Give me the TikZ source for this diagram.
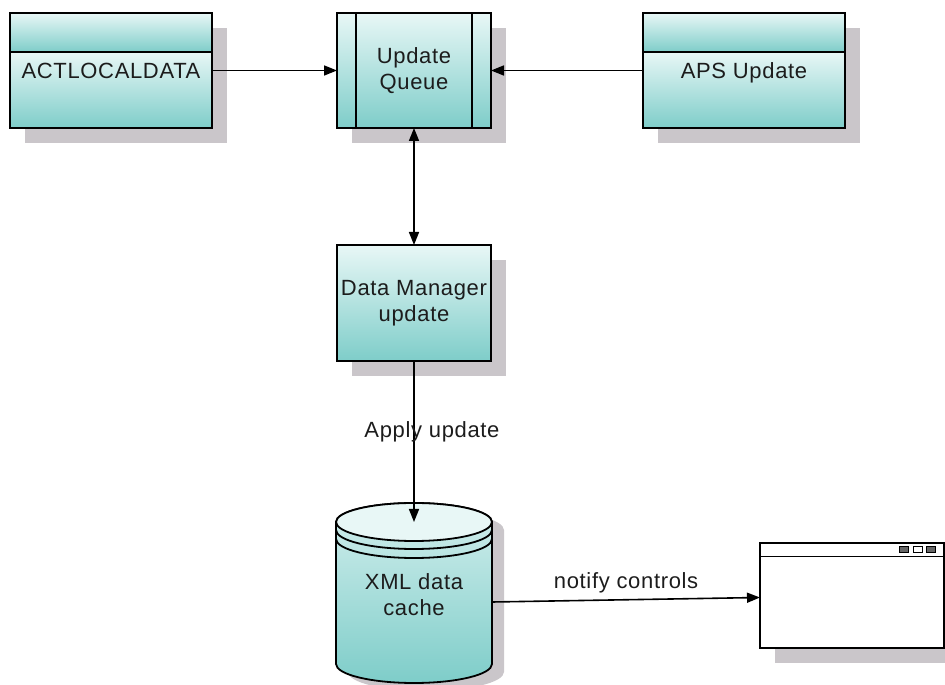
\documentclass[tikz,border=0pt]{standalone}
\usepackage{fontspec}
\setmainfont{Liberation Sans}[LetterSpace=3]
\usetikzlibrary{positioning,shadows,arrows.meta}
\definecolor{tealtop}{RGB}{232,247,246}
\definecolor{tealbot}{RGB}{126,205,201}
\definecolor{shadowgray}{RGB}{202,198,202}
\definecolor{ink}{RGB}{28,28,28}

\begin{document}
\begin{tikzpicture}[
x=1pt, y=1pt,
node distance=0pt,
font=\fontsize{22}{26}\selectfont, text=ink,
    S/.style = {drop shadow={shadow xshift=15pt, shadow yshift=-15pt,
                fill=shadowgray, opacity=1}},% flat grey shadow
    E/.style = {rectangle, draw, line width=2.6pt, outer sep=0pt,% data stores
                minimum width=202pt, top color=tealtop, bottom color=tealbot, S},
    P/.style = {rectangle, draw, line width=1.8pt, outer sep=0pt,% processes
                minimum width=154pt, minimum height=115pt, align=center,
                top color=tealtop, bottom color=tealbot, S},
    A/.style = {line width=1.6pt, -{Triangle[length=13pt,width=10pt]}},
   AA/.style = {line width=1.6pt, {Triangle[length=13pt,width=10pt]}-{Triangle[length=13pt,width=10pt]}},
                        ]
\useasboundingbox (0,0) rectangle (945,685);

% data stores with header
\node[E, minimum height=39pt] (actlhead) at (111,652.5) {};
\node[E, minimum height=76pt, inner ysep=3pt, text height=24pt, text depth=46pt,
      below=of actlhead] (actl) {ACTLOCALDATA};
\node[E, minimum height=39pt] (apshead) at (744,652.5) {};
\node[E, minimum height=76pt, inner ysep=3pt, text height=24pt, text depth=46pt,
      below=of apshead] (aps) {APS Update};

% queue and manager
\node[P] (queue) at (414,614.5) {Update\\Queue};
\draw[line width=1.8pt] ([xshift=19pt]queue.north west) -- ([xshift=19pt]queue.south west)
                        ([xshift=-19pt]queue.north east) -- ([xshift=-19pt]queue.south east);
\node[P, minimum height=116pt] (dm) at (414,382) {Data Manager\\update};

% cylinder
\fill[shadowgray] (348,155) -- (348,13) arc[start angle=180, end angle=360, x radius=78, y radius=19]
      -- (504,155) arc[start angle=0, end angle=180, x radius=78, y radius=19] -- cycle;
\shadedraw[line width=1.8pt, top color=tealtop!80!tealbot, bottom color=tealbot]
      (336,163) -- (336,21) arc[start angle=180, end angle=360, x radius=78, y radius=19]
      -- (492,163) arc[start angle=0, end angle=180, x radius=78, y radius=19] -- cycle;
\draw[line width=1.8pt, fill=tealtop] (414,163) ellipse[x radius=78, y radius=19];
\foreach \h in {155,146}
    \draw[line width=1.8pt] (336,\h) arc[start angle=180, end angle=360, x radius=78, y radius=19];
\node[align=center, inner sep=0pt, minimum width=156pt] (xml) at (414,90) {XML data\\cache};
\coordinate (xmltop) at (414,163);

% window
\node[draw, line width=1.8pt, fill=white, outer sep=0pt, minimum width=184pt,
      minimum height=105pt, S] (win) at (852,89.5) {};
\draw[line width=1.8pt] ([yshift=-13.5pt]win.north west) -- ([yshift=-13.5pt]win.north east);
\foreach \dx/\c in {-45/black!60, -31/white, -18/black!60}
    \draw[line width=1pt, fill=\c] ([shift={(\dx,-10)}]win.north east) rectangle +(9,6);

% connectors
\draw[A] (actl.east |- queue.west) -- (queue.west);
\draw[A] (aps.west |- queue.east) -- (queue.east);
\draw[AA] (queue) -- (dm);
\draw[A] (dm) -- node[pos=0.44, xshift=18pt] {Apply update} (xmltop);
\draw[A] ([yshift=-7pt]xml.east) -- node[above=3pt] {notify controls} ([yshift=-2pt]win.west);

\end{tikzpicture}
\end{document}
